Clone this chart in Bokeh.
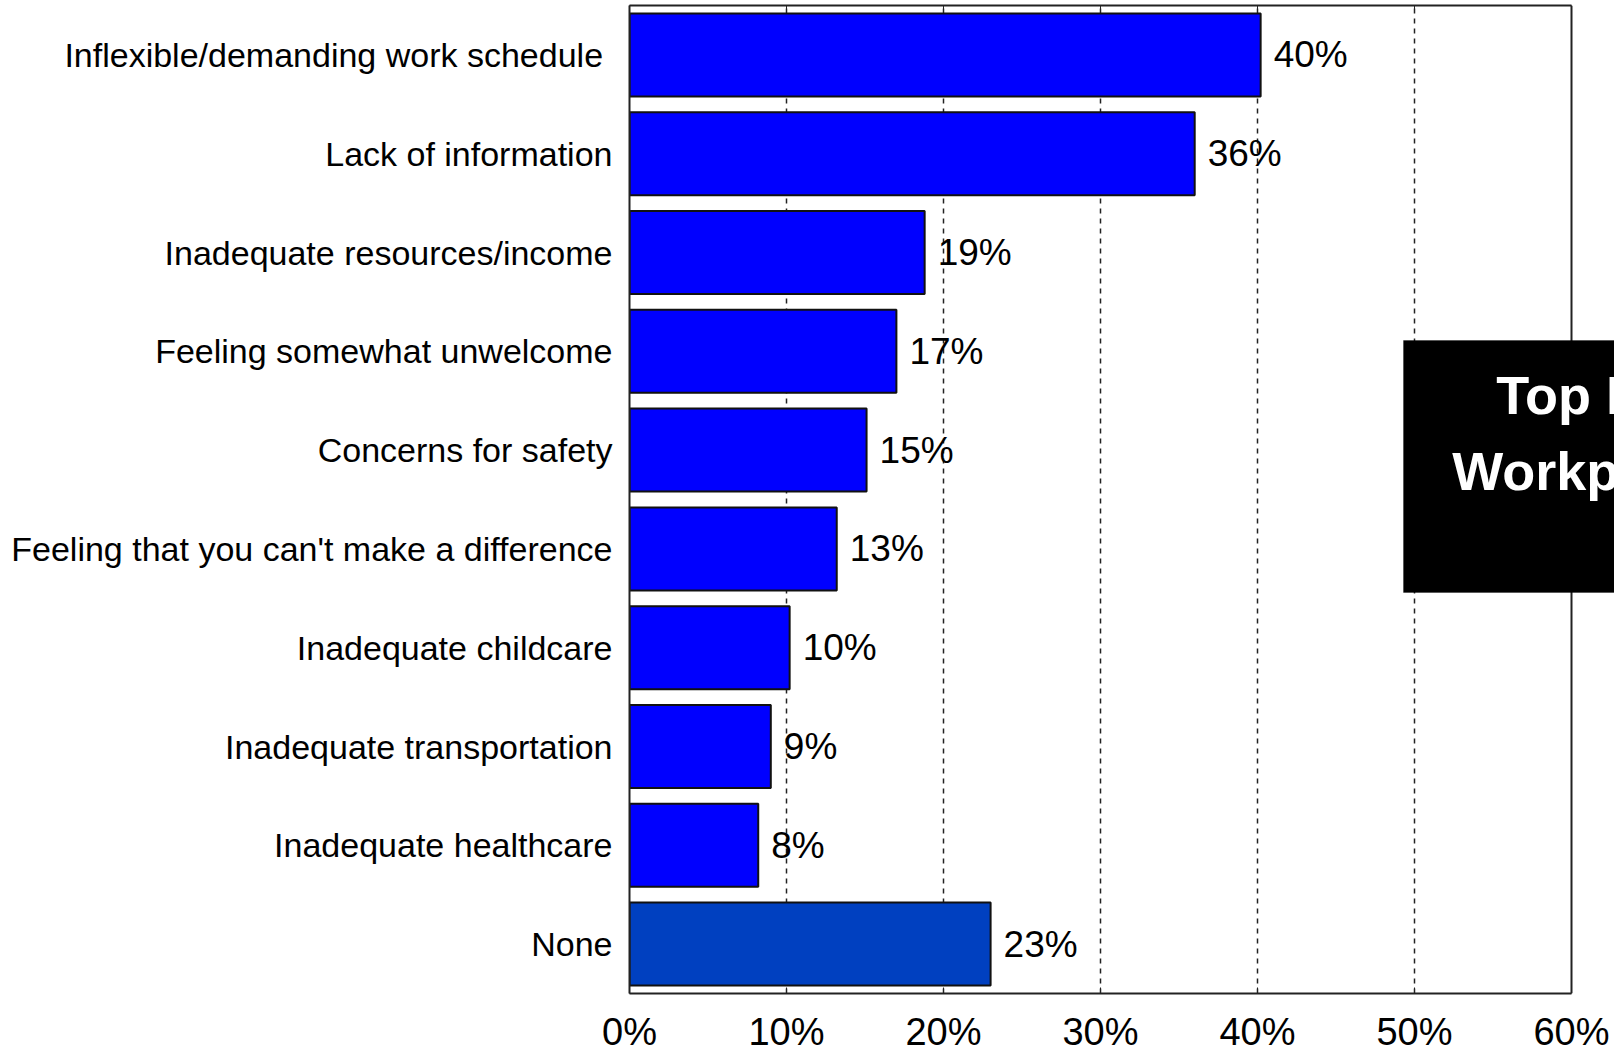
from bokeh.plotting import figure
from bokeh.models import (ColumnDataSource, FactorRange, Range1d, FixedTicker, LinearAxis,
                          BoxAnnotation, Label, Span)
from bokeh.core.properties import value
from bokeh.embed import file_html
from bokeh.resources import INLINE

categories = [
    "Inflexible/demanding work schedule ",
    "Lack of information",
    "Inadequate resources/income",
    "Feeling somewhat unwelcome",
    "Concerns for safety",
    "Feeling that you can't make a difference",
    "Inadequate childcare",
    "Inadequate transportation",
    "Inadequate healthcare",
    "None",
]
values = [40.2, 36.0, 18.8, 17.0, 15.1, 13.2, 10.2, 9.0, 8.2, 23.0]
value_labels = ["40%", "36%", "19%", "17%", "15%", "13%", "10%", "9%", "8%", "23%"]
bar_colors = ["#0000FF"] * 9 + ["#0040C0"]
tick_values = [0, 10, 20, 30, 40, 50, 60]
tick_labels = ["0%", "10%", "20%", "30%", "40%", "50%", "60%"]
grid_values = [10, 20, 30, 40, 50]
box_lines = ["Top Issues in", "Workplace Volunteering"]

FONT = "Liberation Sans"

# layout (canvas pixels)
W, H = 1614, 1055
FRAME_LEFT = 629          # where 0% sits
AXIS_END = 1571           # where 60% sits
x_max = 60 * (W - FRAME_LEFT) / (AXIS_END - FRAME_LEFT)

src = ColumnDataSource(dict(cat=categories, val=values, lab=value_labels, col=bar_colors))

p = figure(width=W, height=H, output_backend="svg", toolbar_location=None,
           y_range=FactorRange(factors=list(reversed(categories)), range_padding=0),
           x_range=Range1d(0, x_max),
           min_border_left=FRAME_LEFT, min_border_right=0, min_border_top=5,
           min_border_bottom=62)

p.hbar(y="cat", right="val", left=0, height=0.84, source=src, fill_color="col",
       line_color="#111111", line_width=2)

p.text(x="val", y="cat", text="lab", source=src, x_offset=13, text_baseline="middle",
       text_align="left", text_font=value(FONT), text_font_size="37px", text_color="black")

# bottom axis
xa = p.xaxis[0]
xa.ticker = FixedTicker(ticks=tick_values)
xa.bounds = (0, 60)
xa.major_label_overrides = {t: l for t, l in zip(tick_values, tick_labels)}
xa.major_label_text_font = FONT
xa.major_label_text_font_size = "38px"
xa.major_label_text_color = "black"
xa.major_label_standoff = 17
xa.major_tick_in = 6
xa.major_tick_out = 0
xa.minor_tick_line_color = None
xa.axis_line_color = "#222222"
xa.axis_line_width = 2
xa.major_tick_line_color = "#222222"

# top frame edge with inward ticks (no labels)
top = LinearAxis(ticker=FixedTicker(ticks=tick_values), bounds=(0, 60),
                 major_label_text_font_size="1px", major_label_text_color=None,
                 major_label_standoff=0, major_tick_in=6, major_tick_out=0,
                 minor_tick_line_color=None, axis_line_color="#222222", axis_line_width=2,
                 major_tick_line_color="#222222")
p.add_layout(top, "above")

# left axis: category labels
ya = p.yaxis[0]
ya.major_label_text_font = FONT
ya.major_label_text_font_size = "34px"
ya.major_label_text_color = "black"
ya.major_label_standoff = 17
ya.major_tick_in = 0
ya.major_tick_out = 0
ya.axis_line_color = "#222222"
ya.axis_line_width = 2

p.ygrid.grid_line_color = None
p.xgrid.ticker = FixedTicker(ticks=grid_values)
p.xgrid.grid_line_color = "#222222"
p.xgrid.grid_line_dash = "5 5"
p.xgrid.grid_line_width = 1.5

p.outline_line_color = None
p.add_layout(Span(location=60, dimension="height", line_color="#222222", line_width=2))

# title box at right (cut by the picture's edge, as in the original)
p.add_layout(BoxAnnotation(left=49.3, right=x_max + 5, bottom=4.059, top=6.609,
                           fill_color="black", fill_alpha=1, line_color="black"))
p.add_layout(Label(x=55.2, y=6.06, text=box_lines[0], text_color="white",
                   text_font=FONT, text_font_style="bold", text_font_size="54px",
                   text_baseline="alphabetic"))
p.add_layout(Label(x=52.4, y=5.29, text=box_lines[1], text_color="white",
                   text_font=FONT, text_font_style="bold", text_font_size="54px",
                   text_baseline="alphabetic"))

open("out.html", "w").write(file_html(p, INLINE))
